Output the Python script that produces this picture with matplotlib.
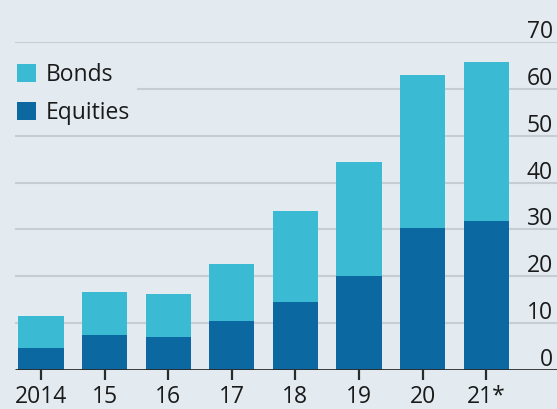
import matplotlib
matplotlib.use("Agg")
import matplotlib.pyplot as plt
import matplotlib.transforms as mtransforms
from matplotlib.patches import Patch

years = ["2014", "15", "16", "17", "18", "19", "20", "21*"]
equities = [4.7, 7.5, 7.0, 10.5, 14.5, 20.0, 30.3, 31.8]
bonds_total = [11.5, 16.6, 16.2, 22.6, 34.0, 44.4, 62.9, 65.7]
bonds = [t - e for t, e in zip(bonds_total, equities)]
yticks = [0, 10, 20, 30, 40, 50, 60, 70]

BG = "#e3ebf1"
C_BONDS = "#3bbbd3"
C_EQ = "#0b68a1"
GRID = "#c6ced4"
DARK = "#2b2b2b"
TXT = "#1a1a1a"
FS = 16.5

plt.rcParams['font.family'] = ['Open Sans', 'DejaVu Sans']

W, H = 557, 409
PX = 328 / 70.0  # pixels per data unit (y)
fig = plt.figure(figsize=(W / 100, H / 100), dpi=100, facecolor=BG)
ax = fig.add_axes([0, 39 / H, 1, 328 / H])
ax.set_facecolor(BG)
ax.set_xlim(-0.645, 8.113)
ax.set_ylim(0, 70)
for s in ax.spines.values():
    s.set_visible(False)
ax.set_xticks([])
ax.set_yticks([])

x = list(range(len(years)))
ax.hlines(yticks[1:], -0.41, 8.113, color=GRID, lw=1.5, zorder=0)
ax.bar(x, equities, width=0.71, color=C_EQ, zorder=2, label="Equities")
ax.bar(x, bonds, width=0.71, bottom=equities, color=C_BONDS, zorder=2, label="Bonds")
ax.hlines([0], -0.41, 8.113, color=DARK, lw=2, zorder=3)

# x tick marks and labels
for xi, lab in zip(x, years):
    ax.plot([xi, xi], [0, -10 / PX], color=DARK, lw=1.6, clip_on=False, zorder=3,
            solid_capstyle="butt")
    ax.text(xi, -33 / PX, lab, ha="center", va="baseline", fontsize=FS,
            color=TXT, clip_on=False)

# y labels on right above gridlines
yt = mtransforms.blended_transform_factory(ax.transAxes, ax.transData)
off = mtransforms.offset_copy(yt, fig=fig, x=-4, y=4, units="dots")
for v in yticks:
    ax.text(1.0, v, str(v), transform=off, ha="right", va="baseline",
            fontsize=FS, color=TXT, clip_on=False)

handles = [Patch(facecolor=C_BONDS, edgecolor="none", label="Bonds"),
           Patch(facecolor=C_EQ, edgecolor="none", label="Equities")]
leg = ax.legend(handles=handles, loc="upper left",
                bbox_to_anchor=(10 / W, 1 - 14 / 328), bbox_transform=ax.transAxes,
                fontsize=FS, frameon=True, facecolor=BG, edgecolor="none",
                framealpha=1, fancybox=False, handlelength=0.85, handleheight=0.85,
                handletextpad=0.4, labelspacing=0.6, borderpad=0.3, borderaxespad=0)
leg.set_zorder(5)
for t in leg.get_texts():
    t.set_color(TXT)

fig.savefig("out.png", dpi=100, facecolor=BG)
